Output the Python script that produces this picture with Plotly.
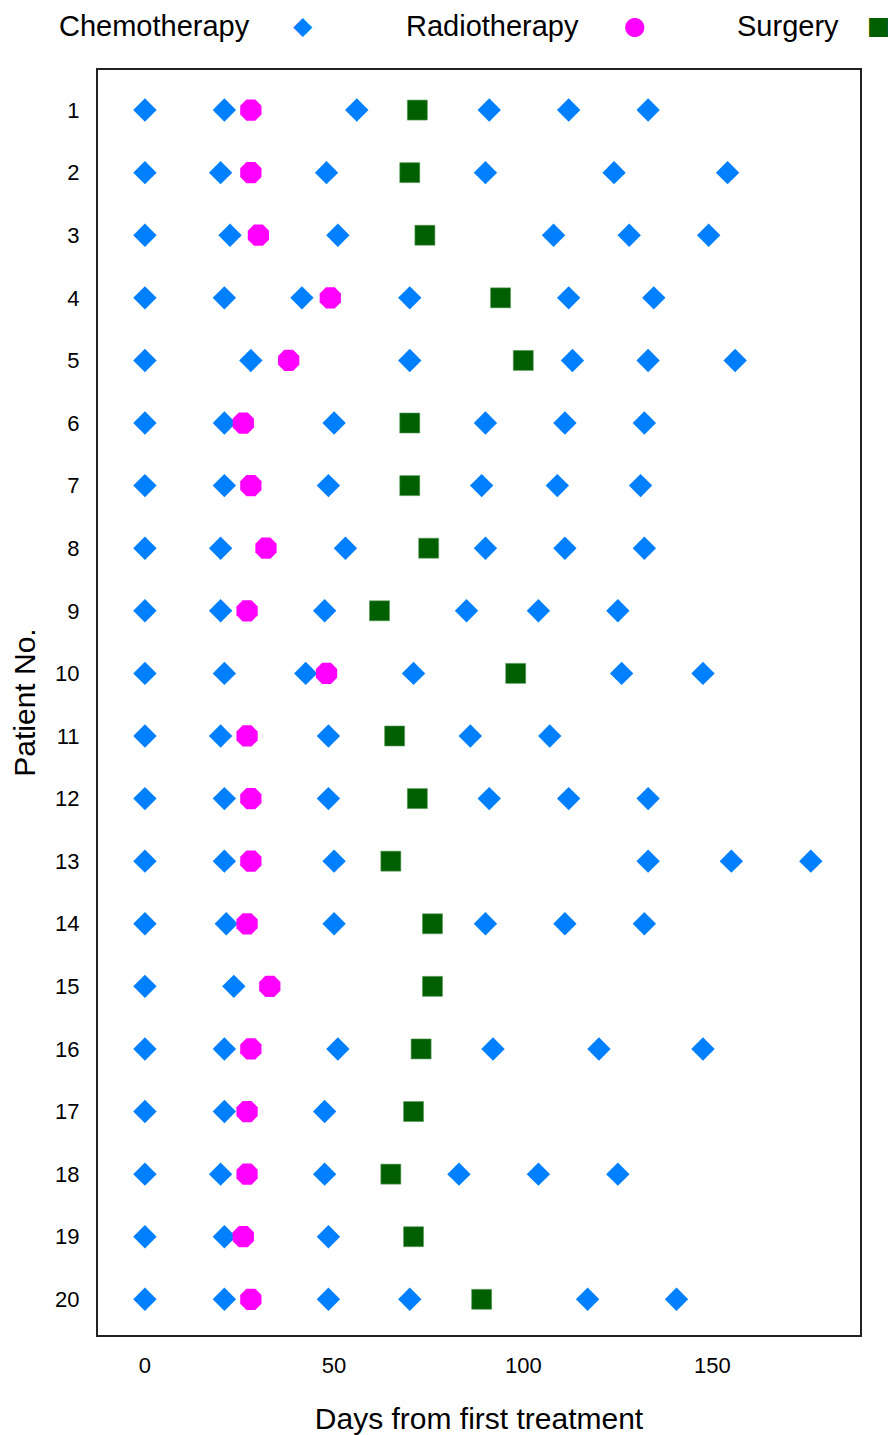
import plotly.graph_objects as go

patients = list(range(1, 21))

# Chemotherapy days per patient (patient 1..20)
chemo_days = [
    [0, 21, 56, 91, 112, 133],
    [0, 20, 48, 90, 124, 154],
    [0, 22.5, 51, 108, 128, 149],
    [0, 21, 41.5, 70, 112, 134.5],
    [0, 28, 70, 113, 133, 156],
    [0, 21, 50, 90, 111, 132],
    [0, 21, 48.5, 89, 109, 131],
    [0, 20, 53, 90, 111, 132],
    [0, 20, 47.5, 85, 104, 125],
    [0, 21, 42.5, 71, 126, 147.5],
    [0, 20, 48.5, 86, 107],
    [0, 21, 48.5, 91, 112, 133],
    [0, 21, 50, 133, 155, 176],
    [0, 21.5, 50, 90, 111, 132],
    [0, 23.5],
    [0, 21, 51, 92, 120, 147.5],
    [0, 21, 47.5],
    [0, 20, 47.5, 83, 104, 125],
    [0, 21, 48.5],
    [0, 21, 48.5, 70, 117, 140.5],
]
radio_days = [28, 28, 30, 49, 38, 26, 28, 32, 27, 48, 27, 28, 28, 27, 33, 28, 27, 27, 26, 28]
surgery_days = [72, 70, 74, 94, 100, 70, 70, 75, 62, 98, 66, 72, 65, 76, 76, 73, 71, 65, 71, 89]

legend_names = ["Chemotherapy", "Radiotherapy", "Surgery"]
legend_glyphs = ["\u25C6", "\u25CF", "\u25A0"]

BLUE = "#0080ff"
MAGENTA = "#ff00ff"
GREEN = "#005f00"
colors = [BLUE, MAGENTA, GREEN]

chemo_x, chemo_y = [], []
for p, days in zip(patients, chemo_days):
    for d in days:
        chemo_x.append(d)
        chemo_y.append(p)

FONT = "Liberation Sans, Arial, sans-serif"

fig = go.Figure()
fig.add_trace(go.Scatter(
    x=chemo_x, y=chemo_y, mode="markers", name=legend_names[0],
    marker=dict(symbol="diamond", size=18, color=BLUE, line=dict(width=0)),
))
fig.add_trace(go.Scatter(
    x=radio_days, y=patients, mode="markers", name=legend_names[1],
    marker=dict(symbol="octagon", size=23, color=MAGENTA, line=dict(width=0)),
))
fig.add_trace(go.Scatter(
    x=surgery_days, y=patients, mode="markers", name=legend_names[2],
    marker=dict(symbol="square", size=20, color=GREEN, line=dict(width=0.6, color="#5a9a5a")),
))

# Legend row at the top: label followed by its symbol
text_x = [-0.0538, 0.4016, 0.836]
glyph_x = [0.269, 0.7047, 1.0250]
LEG_Y = 1.0348
annotations = []
for name, glyph, col, tx, gx in zip(legend_names, legend_glyphs, colors, text_x, glyph_x):
    annotations.append(dict(
        text=name, x=tx, y=LEG_Y, xref="paper", yref="paper",
        xanchor="left", yanchor="middle", showarrow=False,
        font=dict(size=29, color="black", family=FONT),
    ))
    annotations.append(dict(
        text=glyph, x=gx, y=LEG_Y, xref="paper", yref="paper",
        xanchor="center", yanchor="middle", showarrow=False,
        font=dict(size=25, color=col, family="DejaVu Sans"),
    ))

fig.update_layout(
    width=888, height=1427,
    margin=dict(l=90, r=36, t=62, b=100, autoexpand=False),
    paper_bgcolor="white", plot_bgcolor="white",
    font=dict(family=FONT, color="black"),
    showlegend=False,
    annotations=annotations,
    xaxis=dict(
        range=[-12.4, 189], tickvals=[0, 50, 100, 150],
        showgrid=False, zeroline=False, ticks="",
        showline=True, linecolor="#222", linewidth=2, mirror=True,
        tickfont=dict(size=22), ticklabelstandoff=10,
        title=dict(text="Days from first treatment", font=dict(size=30), standoff=31),
    ),
    yaxis=dict(
        range=[20.57, 0.36], tickvals=patients, ticktext=[str(p) for p in patients],
        showgrid=False, zeroline=False, ticks="",
        showline=True, linecolor="#222", linewidth=2, mirror=True,
        tickfont=dict(size=22), ticklabelstandoff=12,
        title=dict(text="Patient No.", font=dict(size=30), standoff=29),
    ),
)

fig.write_html("out.html")
